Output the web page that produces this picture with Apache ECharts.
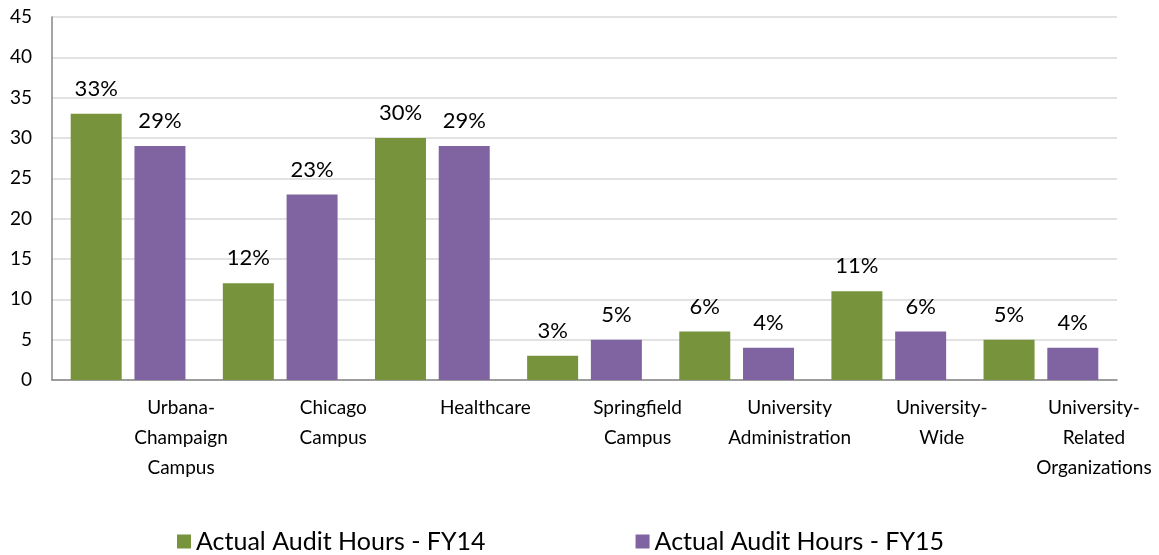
<!DOCTYPE html>
<html><head><meta charset="utf-8">
<script src="https://cdn.jsdelivr.net/npm/echarts@6/dist/echarts.min.js"></script>
<style>html,body{margin:0;padding:0;background:#fff}#c{width:1159px;height:555px}</style>
</head><body><div id="c"></div>
<script>
const categories = ['Urbana-\nChampaign\nCampus', 'Chicago\nCampus', 'Healthcare', 'Springfield\nCampus', 'University\nAdministration', 'University-\nWide', 'University-\nRelated\nOrganizations'];
const fy14 = [33, 12, 30, 3, 6, 11, 5];
const fy15 = [29, 23, 29, 5, 4, 6, 4];
const seriesNames = ['Actual Audit Hours - FY14', 'Actual Audit Hours - FY15'];
const yTicks = { min: 0, max: 45, interval: 5 };

const font = 'Lato, "Open Sans", sans-serif';
const chart = echarts.init(document.getElementById('c'));
const lbl = { show: true, position: 'top', distance: 14, formatter: p => p.value + '%', color: '#000', fontSize: 22, fontFamily: font };
chart.setOption({
  animation: false,
  grid: { left: 52, right: 42, top: 17, bottom: 175 },
  legend: {
    data: seriesNames, top: 524, left: 172, itemWidth: 14, itemHeight: 14, itemGap: 150,
    icon: 'rect',
    textStyle: { fontSize: 25, fontFamily: font, color: '#000' }
  },
  xAxis: {
    type: 'category', data: categories,
    axisLine: { lineStyle: { color: '#868686', width: 1.5 } },
    axisTick: { show: false },
    axisLabel: { interval: 0, color: '#000', fontSize: 19, fontFamily: font, lineHeight: 30, margin: 13, padding: [0, 0, 0, 106] }
  },
  yAxis: {
    type: 'value', min: yTicks.min, max: yTicks.max, interval: yTicks.interval,
    axisLine: { show: true, lineStyle: { color: '#868686', width: 1.5 } },
    splitLine: { lineStyle: { color: '#D9D9D9', width: 1.5 } },
    axisLabel: { color: '#000', fontSize: 19, fontFamily: font, margin: 20 }
  },
  series: [
    { name: seriesNames[0], type: 'bar', data: fy14, barWidth: 51, barGap: '25%', itemStyle: { color: '#77933C' }, label: lbl },
    { name: seriesNames[1], type: 'bar', data: fy15, barWidth: 51, barGap: '25%', itemStyle: { color: '#8064A2' }, label: lbl }
  ]
});
</script></body></html>
